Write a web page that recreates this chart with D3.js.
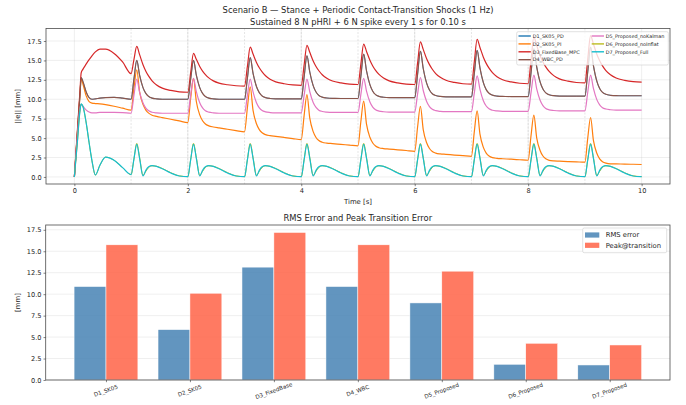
<!DOCTYPE html>
<html><head><meta charset="utf-8">
<script src="https://cdn.jsdelivr.net/npm/d3@7"></script>
<style>
body{margin:0;background:#fff}
svg{display:block;font-family:"DejaVu Sans",sans-serif}
</style>
</head><body>
<svg id="c" width="686" height="405"></svg>
<script>
// ---------- DATA: line chart (time grid, one row per 1 s period) ----------
const timeRows = [
  [0, 0.05, 0.1, 0.12, 0.15, 0.21, 0.26, 0.31, 0.37, 0.45, 0.55, 0.7, 0.85],
  [1, 1.05, 1.1, 1.15, 1.21, 1.26, 1.31, 1.37, 1.45, 1.55, 1.7, 1.85],
  [2, 2.05, 2.1, 2.15, 2.21, 2.26, 2.31, 2.37, 2.45, 2.55, 2.7, 2.85],
  [3, 3.05, 3.1, 3.15, 3.21, 3.26, 3.31, 3.37, 3.45, 3.55, 3.7, 3.85],
  [4, 4.05, 4.1, 4.15, 4.21, 4.26, 4.31, 4.37, 4.45, 4.55, 4.7, 4.85],
  [5, 5.05, 5.1, 5.15, 5.21, 5.26, 5.31, 5.37, 5.45, 5.55, 5.7, 5.85],
  [6, 6.05, 6.1, 6.15, 6.21, 6.26, 6.31, 6.37, 6.45, 6.55, 6.7, 6.85],
  [7, 7.05, 7.1, 7.15, 7.21, 7.26, 7.31, 7.37, 7.45, 7.55, 7.7, 7.85],
  [8, 8.05, 8.1, 8.15, 8.21, 8.26, 8.31, 8.37, 8.45, 8.55, 8.7, 8.85],
  [9, 9.05, 9.1, 9.15, 9.21, 9.26, 9.31, 9.37, 9.45, 9.55, 9.7, 9.85],
  [10]
];
const D4_WBC_PD = [
  [0, 5.3, 10.7, 12.8, 12.3, 10.9, 10.2, 10.0, 10.05, 10.15, 10.22, 10.25, 10.15],
  [10.0, 12.6, 15.0, 13.1, 11.5, 10.75, 10.35, 10.15, 10.05, 10.0, 10.0, 10.0],
  [10.0, 12.6, 15.0, 13.1, 11.5, 10.75, 10.35, 10.15, 10.05, 10.0, 10.0, 10.0],
  [10.0, 12.7, 15.35, 13.34, 11.64, 10.85, 10.42, 10.21, 10.1, 10.06, 10.05, 10.05],
  [10.05, 12.85, 15.6, 13.51, 11.75, 10.93, 10.49, 10.27, 10.16, 10.11, 10.1, 10.1],
  [10.1, 12.95, 15.8, 13.67, 11.88, 11.04, 10.59, 10.37, 10.26, 10.21, 10.2, 10.2],
  [10.2, 13.2, 16.2, 13.96, 12.07, 11.19, 10.71, 10.48, 10.36, 10.31, 10.3, 10.3],
  [10.3, 13.3, 16.3, 14.04, 12.14, 11.24, 10.77, 10.53, 10.41, 10.36, 10.35, 10.35],
  [10.35, 13.4, 16.5, 14.18, 12.23, 11.32, 10.83, 10.58, 10.46, 10.41, 10.4, 10.4],
  [10.4, 13.55, 16.7, 14.33, 12.33, 11.39, 10.89, 10.64, 10.51, 10.46, 10.45, 10.45],
  [10.45]
];
// D1 lies exactly under D4 in the picture (same RMS / peak in the bar chart)
const D1_SK05_PD = D4_WBC_PD;
const D2_SK05_PI = [
  [0, 5.3, 10.7, 12.7, 12.0, 10.4, 9.7, 9.5, 9.45, 9.4, 9.3, 9.1, 8.85],
  [8.6, 11.4, 13.8, 10.96, 9.34, 8.61, 8.21, 7.95, 7.79, 7.64, 7.43, 7.21],
  [7.0, 10.1, 12.7, 9.71, 7.99, 7.24, 6.82, 6.58, 6.43, 6.31, 6.14, 5.97],
  [5.8, 8.9, 11.6, 8.57, 6.84, 6.09, 5.68, 5.44, 5.31, 5.22, 5.08, 4.94],
  [4.8, 7.9, 10.6, 7.56, 5.83, 5.08, 4.68, 4.46, 4.35, 4.29, 4.19, 4.1],
  [4.0, 7.1, 9.76, 6.79, 5.1, 4.37, 3.98, 3.76, 3.65, 3.59, 3.49, 3.4],
  [3.3, 6.4, 9.1, 6.1, 4.4, 3.66, 3.28, 3.07, 2.96, 2.91, 2.82, 2.74],
  [2.65, 5.8, 8.5, 5.5, 3.8, 3.07, 2.69, 2.48, 2.39, 2.34, 2.28, 2.21],
  [2.15, 5.3, 7.96, 5.04, 3.41, 2.69, 2.33, 2.14, 2.06, 2.03, 1.98, 1.94],
  [1.9, 5.0, 7.65, 4.7, 3.04, 2.32, 1.96, 1.77, 1.69, 1.68, 1.65, 1.63],
  [1.6]
];
const D3_FixedBase_MPC = [
  [0, 5.6, 11.2, 13.4, 13.85, 14.55, 15.1, 15.6, 16.1, 16.45, 16.45, 15.9, 14.8],
  [13.3, 15.1, 16.8, 15.74, 14.44, 13.61, 12.97, 12.38, 11.84, 11.43, 11.14, 10.96],
  [10.9, 13.4, 15.9, 15.14, 14.22, 13.63, 13.17, 12.75, 12.37, 12.08, 11.87, 11.74],
  [11.7, 14.2, 16.7, 15.82, 14.74, 14.05, 13.52, 13.03, 12.58, 12.24, 12.0, 11.85],
  [11.8, 14.4, 16.95, 16.04, 14.93, 14.22, 13.67, 13.16, 12.71, 12.35, 12.1, 11.95],
  [11.9, 14.5, 17.1, 16.16, 15.02, 14.29, 13.72, 13.2, 12.73, 12.37, 12.11, 11.95],
  [11.9, 14.65, 17.4, 16.42, 15.22, 14.46, 13.86, 13.31, 12.82, 12.44, 12.17, 12.0],
  [11.95, 14.8, 17.7, 16.67, 15.42, 14.62, 14.0, 13.43, 12.91, 12.51, 12.23, 12.06],
  [12.0, 15.0, 18.0, 16.94, 15.64, 14.81, 14.17, 13.58, 13.04, 12.63, 12.34, 12.16],
  [12.1, 15.15, 18.2, 17.12, 15.8, 14.96, 14.3, 13.7, 13.16, 12.74, 12.44, 12.26],
  [12.2]
];
const D5_Proposed_noKalman = [
  [0, 4.8, 8.9, 9.3, 9.1, 8.6, 8.35, 8.25, 8.25, 8.3, 8.3, 8.3, 8.28],
  [8.2, 10.5, 12.6, 10.93, 9.52, 8.86, 8.51, 8.33, 8.24, 8.2, 8.2, 8.2],
  [8.2, 10.55, 12.7, 10.99, 9.55, 8.88, 8.52, 8.34, 8.25, 8.2, 8.2, 8.2],
  [8.2, 10.5, 12.6, 10.95, 9.56, 8.9, 8.55, 8.38, 8.29, 8.25, 8.25, 8.25],
  [8.25, 10.5, 12.6, 10.97, 9.59, 8.95, 8.6, 8.43, 8.34, 8.3, 8.3, 8.3],
  [8.3, 10.6, 12.7, 11.05, 9.66, 9.0, 8.65, 8.48, 8.39, 8.35, 8.35, 8.35],
  [8.35, 10.65, 12.8, 11.13, 9.72, 9.06, 8.71, 8.53, 8.44, 8.4, 8.4, 8.4],
  [8.4, 10.8, 13.0, 11.28, 9.82, 9.13, 8.77, 8.59, 8.5, 8.45, 8.45, 8.45],
  [8.45, 10.85, 13.1, 11.35, 9.88, 9.19, 8.82, 8.64, 8.55, 8.5, 8.5, 8.5],
  [8.5, 10.9, 13.1, 11.39, 9.95, 9.28, 8.92, 8.74, 8.65, 8.6, 8.6, 8.6],
  [8.6]
];
const D6_Proposed_noInflat = [
  [0, 4.2, 8.6, 9.4, 9.1, 6.9, 4.4, 2.1, 0.25, 1.5, 2.55, 2.15, 1.2],
  [0.3, 2.3, 4.32, 2.5, 0.2, 0.72, 1.22, 1.43, 1.37, 1.09, 0.55, 0.14],
  [0.04, 2.22, 4.32, 2.5, 0.2, 0.72, 1.22, 1.43, 1.37, 1.09, 0.55, 0.14],
  [0.04, 2.22, 4.32, 2.5, 0.2, 0.72, 1.22, 1.43, 1.37, 1.09, 0.55, 0.14],
  [0.04, 2.22, 4.32, 2.5, 0.2, 0.72, 1.22, 1.43, 1.37, 1.09, 0.55, 0.14],
  [0.04, 2.22, 4.32, 2.5, 0.2, 0.72, 1.22, 1.43, 1.37, 1.09, 0.55, 0.14],
  [0.04, 2.22, 4.32, 2.5, 0.2, 0.72, 1.22, 1.43, 1.37, 1.09, 0.55, 0.14],
  [0.04, 2.22, 4.32, 2.5, 0.2, 0.72, 1.22, 1.43, 1.37, 1.09, 0.55, 0.14],
  [0.04, 2.22, 4.32, 2.5, 0.2, 0.72, 1.22, 1.43, 1.37, 1.09, 0.55, 0.14],
  [0.04, 2.22, 4.32, 2.5, 0.2, 0.72, 1.22, 1.43, 1.37, 1.09, 0.55, 0.14],
  [0.04]
];
const D7_Proposed_Full = [
  [0, 4.2, 8.6, 9.4, 9.1, 6.9, 4.4, 2.1, 0.25, 1.5, 2.55, 2.15, 1.2],
  [0.3, 2.3, 4.2, 2.4, 0.12, 0.85, 1.3, 1.45, 1.35, 1.05, 0.5, 0.12],
  [0.03, 2.2, 4.2, 2.4, 0.12, 0.85, 1.3, 1.45, 1.35, 1.05, 0.5, 0.12],
  [0.03, 2.2, 4.2, 2.4, 0.12, 0.85, 1.3, 1.45, 1.35, 1.05, 0.5, 0.12],
  [0.03, 2.2, 4.2, 2.4, 0.12, 0.85, 1.3, 1.45, 1.35, 1.05, 0.5, 0.12],
  [0.03, 2.2, 4.2, 2.4, 0.12, 0.85, 1.3, 1.45, 1.35, 1.05, 0.5, 0.12],
  [0.03, 2.2, 4.2, 2.4, 0.12, 0.85, 1.3, 1.45, 1.35, 1.05, 0.5, 0.12],
  [0.03, 2.2, 4.2, 2.4, 0.12, 0.85, 1.3, 1.45, 1.35, 1.05, 0.5, 0.12],
  [0.03, 2.2, 4.2, 2.4, 0.12, 0.85, 1.3, 1.45, 1.35, 1.05, 0.5, 0.12],
  [0.03, 2.2, 4.2, 2.4, 0.12, 0.85, 1.3, 1.45, 1.35, 1.05, 0.5, 0.12],
  [0.03]
];
const seriesNames = ["D1_SK05_PD","D2_SK05_PI","D3_FixedBase_MPC","D4_WBC_PD","D5_Proposed_noKalman","D6_Proposed_noInflat","D7_Proposed_Full"];
const seriesValues = [D1_SK05_PD, D2_SK05_PI, D3_FixedBase_MPC, D4_WBC_PD, D5_Proposed_noKalman, D6_Proposed_noInflat, D7_Proposed_Full];
const seriesColors = ["#1f77b4","#ff7f0e","#d62728","#8c564b","#e377c2","#bcbd22","#17becf"];
const transitionTimes = [1,2,3,4,5,6,7,8,9];
const topXTicks = [0,2,4,6,8,10];
const topYTicks = [0,2.5,5,7.5,10,12.5,15,17.5];

// ---------- DATA: bar chart ----------
const barCategories = ["D1_SK05","D2_SK05","D3_FixedBase","D4_WBC","D5_Proposed","D6_Proposed","D7_Proposed"];
const rmsError = [10.89, 5.87, 13.15, 10.89, 8.98, 1.83, 1.75];
const peakTransition = [15.75, 10.11, 17.19, 15.75, 12.68, 4.28, 4.08];
const barYTicks = [0,2.5,5,7.5,10,12.5,15,17.5];

// ---------- DRAW ----------
const svg = d3.select("#c");
const TXT = "#262626";
const FS_TICK = 6.6, FS_LABEL = 6.9, FS_TITLE = 8.4, FS_LEG = 4.9, FS_LEG2 = 6.8, FS_CAT = 5.6;
const lineWidths = [0.8, 1.2, 1.2, 1.2, 1.2, 1.0, 1.2];

function frame(g, x0, x1, y0, y1){
  g.append("rect").attr("x",x0).attr("y",y0).attr("width",x1-x0).attr("height",y1-y0)
   .attr("fill","none").attr("stroke","#4d4d4d").attr("stroke-width",0.8);
}

// ===== Top chart =====
const TL=46, TR=670, TT=28.5, TB=184;
const xT = d3.scaleLinear().domain([-0.5,10.5]).range([TL,TR]);
const yT = d3.scaleLinear().domain([-0.91,19.11]).range([TB,TT]);
const gT = svg.append("g");

gT.selectAll(".gx").data(topXTicks).join("line")
  .attr("x1",d=>xT(d)).attr("x2",d=>xT(d)).attr("y1",TT).attr("y2",TB)
  .attr("stroke","#b0b0b0").attr("stroke-opacity",0.35).attr("stroke-width",0.6);
gT.selectAll(".gy").data(topYTicks).join("line")
  .attr("x1",TL).attr("x2",TR).attr("y1",d=>yT(d)).attr("y2",d=>yT(d))
  .attr("stroke","#b0b0b0").attr("stroke-opacity",0.35).attr("stroke-width",0.6);
gT.selectAll(".tr").data(transitionTimes).join("line")
  .attr("x1",d=>xT(d)).attr("x2",d=>xT(d)).attr("y1",TT).attr("y2",TB)
  .attr("stroke","#808080").attr("stroke-opacity",0.35).attr("stroke-width",0.6)
  .attr("stroke-dasharray","2,1.5");

const timeFlat = timeRows.flat();
const line = d3.line().x(d=>xT(d[0])).y(d=>yT(d[1])).curve(d3.curveMonotoneX);
seriesValues.forEach((rows,i)=>{
  const vals = rows.flat();
  const pts = timeFlat.map((t,j)=>[t, vals[j]]);
  gT.append("path").datum(pts).attr("d",line).attr("fill","none")
    .attr("stroke",seriesColors[i]).attr("stroke-width", lineWidths[i]).attr("stroke-linejoin","round");
});

frame(gT, TL, TR, TT, TB);

const axXT = gT.append("g").attr("transform",`translate(0,${TB})`)
  .call(d3.axisBottom(xT).tickValues(topXTicks).tickFormat(d3.format("d")).tickSize(2.2).tickPadding(2));
const axYT = gT.append("g").attr("transform",`translate(${TL},0)`)
  .call(d3.axisLeft(yT).tickValues(topYTicks).tickFormat(d3.format(".1f")).tickSize(2.2).tickPadding(2));
[axXT, axYT].forEach(a=>{
  a.select(".domain").remove();
  a.selectAll("line").attr("stroke","#333").attr("stroke-width",0.6);
  a.selectAll("text").attr("fill",TXT).attr("font-size",FS_TICK).attr("font-family","DejaVu Sans");
});

gT.append("text").attr("x",(TL+TR)/2).attr("y",203.5).attr("text-anchor","middle")
  .attr("font-size",FS_LABEL).attr("fill",TXT).text("Time [s]");
gT.append("text").attr("transform",`translate(20,${(TT+TB)/2}) rotate(-90)`).attr("text-anchor","middle")
  .attr("font-size",FS_LABEL).attr("fill",TXT).text("||e|| [mm]");
gT.append("text").attr("x",(TL+TR)/2).attr("y",13).attr("text-anchor","middle")
  .attr("font-size",FS_TITLE).attr("fill",TXT).text("Scenario B — Stance + Periodic Contact-Transition Shocks (1 Hz)");
gT.append("text").attr("x",(TL+TR)/2).attr("y",24.5).attr("text-anchor","middle")
  .attr("font-size",FS_TITLE).attr("fill",TXT).text("Sustained 8 N pHRI + 6 N spike every 1 s for 0.10 s");

const lg = gT.append("g");
lg.append("rect").attr("x",516.7).attr("y",31.7).attr("width",151.6).attr("height",33.3).attr("rx",1.5)
  .attr("fill","#fff").attr("fill-opacity",0.8).attr("stroke","#cccccc").attr("stroke-width",0.6);
seriesNames.forEach((n,i)=>{
  const col = i<4 ? 0 : 1, row = i<4 ? i : i-4;
  const hx = col===0 ? 518.5 : 591.7, tx = col===0 ? 532.7 : 605.7;
  const cy = 36 + row*7.9;
  lg.append("line").attr("x1",hx).attr("x2",hx+12.3).attr("y1",cy).attr("y2",cy)
    .attr("stroke",seriesColors[i]).attr("stroke-width",1.4);
  lg.append("text").attr("x",tx).attr("y",cy).attr("dy","0.35em").attr("font-size",FS_LEG)
    .attr("fill",TXT).text(n);
});

// ===== Bottom chart =====
const BL=45.7, BR=670, BT=225, BB=380;
const xB = d3.scaleLinear().domain([-0.718,6.718]).range([BL,BR]);
const yB = d3.scaleLinear().domain([0,18.06]).range([BB,BT]);
const gB = svg.append("g");
const barW = 0.38;

gB.selectAll(".gy").data(barYTicks).join("line")
  .attr("x1",BL).attr("x2",BR).attr("y1",d=>yB(d)).attr("y2",d=>yB(d))
  .attr("stroke","#b0b0b0").attr("stroke-opacity",0.35).attr("stroke-width",0.6);

const idx = d3.range(barCategories.length);
gB.selectAll(".rms").data(idx).join("rect")
  .attr("x",i=>xB(i-barW)).attr("width",i=>xB(i)-xB(i-barW))
  .attr("y",i=>yB(rmsError[i])).attr("height",i=>yB(0)-yB(rmsError[i]))
  .attr("fill","steelblue").attr("fill-opacity",0.85)
  .attr("stroke","#fff").attr("stroke-width",0.5);
gB.selectAll(".pk").data(idx).join("rect")
  .attr("x",i=>xB(i)).attr("width",i=>xB(i+barW)-xB(i))
  .attr("y",i=>yB(peakTransition[i])).attr("height",i=>yB(0)-yB(peakTransition[i]))
  .attr("fill","tomato").attr("fill-opacity",0.85)
  .attr("stroke","#fff").attr("stroke-width",0.5);

frame(gB, BL, BR, BT, BB);

const axXB = gB.append("g").attr("transform",`translate(0,${BB})`)
  .call(d3.axisBottom(xB).tickValues(idx).tickFormat(i=>barCategories[i]).tickSize(2.2).tickPadding(2));
const axYB = gB.append("g").attr("transform",`translate(${BL},0)`)
  .call(d3.axisLeft(yB).tickValues(barYTicks).tickFormat(d3.format(".1f")).tickSize(2.2).tickPadding(2));
[axXB, axYB].forEach(a=>{
  a.select(".domain").remove();
  a.selectAll("line").attr("stroke","#333").attr("stroke-width",0.6);
  a.selectAll("text").attr("fill",TXT).attr("font-size",FS_TICK).attr("font-family","DejaVu Sans");
});
axXB.selectAll("text").attr("font-size",FS_CAT).attr("dy",null).attr("y",null)
  .attr("text-anchor","middle")
  .attr("transform","translate(0,12.5) rotate(-20)");

gB.append("text").attr("transform",`translate(20,${(BT+BB)/2}) rotate(-90)`).attr("text-anchor","middle")
  .attr("font-size",FS_LABEL).attr("fill",TXT).text("[mm]");
gB.append("text").attr("x",(BL+BR)/2).attr("y",221).attr("text-anchor","middle")
  .attr("font-size",FS_TITLE).attr("fill",TXT).text("RMS Error and Peak Transition Error");

const bl = gB.append("g");
bl.append("rect").attr("x",582.7).attr("y",228).attr("width",84).attr("height",24.7).attr("rx",1.5)
  .attr("fill","#fff").attr("fill-opacity",0.8).attr("stroke","#cccccc").attr("stroke-width",0.6);
[["RMS error","steelblue",235],["Peak@transition","tomato",245.3]].forEach(([t,c,cy])=>{
  bl.append("rect").attr("x",585).attr("y",cy-2.6).attr("width",14.3).attr("height",5.2)
    .attr("fill",c).attr("fill-opacity",0.85);
  bl.append("text").attr("x",605.7).attr("y",cy).attr("dy","0.35em").attr("font-size",FS_LEG2)
    .attr("fill",TXT).text(t);
});
</script>
</body></html>
